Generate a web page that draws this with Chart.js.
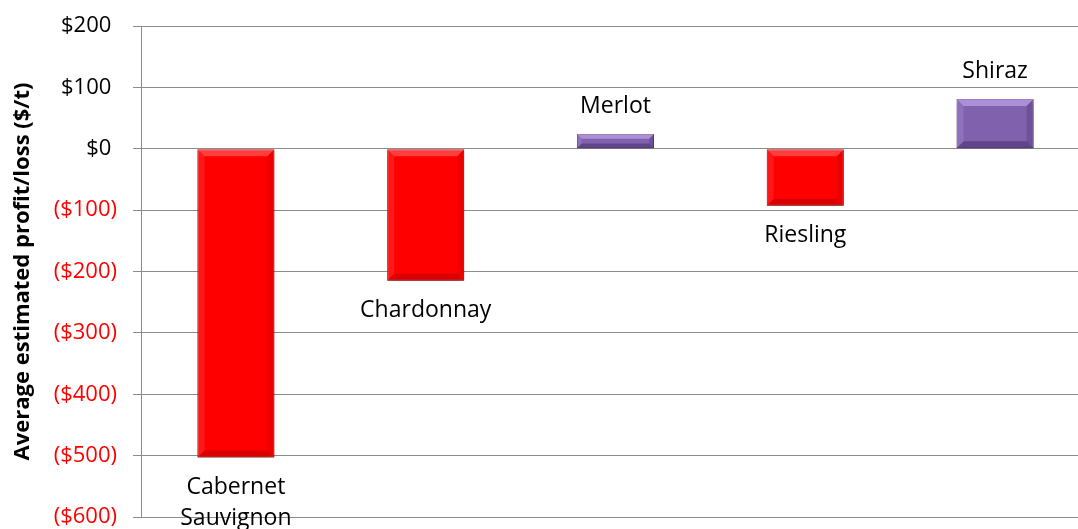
<!DOCTYPE html>
<html>
<head>
<meta charset="utf-8">
<script src="https://cdn.jsdelivr.net/npm/chart.js@4.4.0/dist/chart.umd.min.js"></script>
<style>
  html, body { margin: 0; padding: 0; background: #fff; overflow: hidden; }
  #wrap { width: 1090px; height: 529px; }
</style>
</head>
<body>
<div id="wrap"><canvas id="chart-profit"></canvas></div>
<script>
// categories + values ($/t)
const varieties = [["Cabernet", "Sauvignon"], ["Chardonnay"], ["Merlot"], ["Riesling"], ["Shiraz"]];
const profitLoss = [-503, -215, 24, -93, 81];
const yTicks = [200, 100, 0, -100, -200, -300, -400, -500, -600];

const FONT = "'Open Sans', sans-serif";

function money(v) {
  // excel-ish accounting format, negatives in brackets
  return v < 0 ? "($" + Math.abs(v) + ")" : "$" + v + " ";
}

function barColor(v) {
  return v < 0 ? "#ff0000" : "#8061ad";
}

// shadow + bevel look like the excel bars
const bevelPlugin = {
  id: "bevel",
  beforeDatasetsDraw(chart) {
    const ctx = chart.ctx;
    ctx.save();
    ctx.shadowColor = "rgba(0,0,0,0.35)";
    ctx.shadowBlur = 6;
    ctx.shadowOffsetY = 3;
  },
  afterDatasetsDraw(chart) {
    const ctx = chart.ctx;
    ctx.restore();
    const meta = chart.getDatasetMeta(0);
    meta.data.forEach((bar, i) => {
      const v = profitLoss[i];
      const L = bar.x - bar.width / 2, R = bar.x + bar.width / 2;
      const T = Math.min(bar.y, bar.base), B = Math.max(bar.y, bar.base);
      const b = Math.min(7, (B - T) / 3);
      const light = v < 0 ? "rgba(255,140,140,0.45)" : "rgba(200,175,240,0.6)";
      const dark = v < 0 ? "rgba(150,0,0,0.35)" : "rgba(60,35,100,0.45)";
      const side = v < 0 ? "rgba(255,90,90,0.25)" : "rgba(170,140,215,0.35)";
      const sideDark = v < 0 ? "rgba(170,0,0,0.22)" : "rgba(70,45,110,0.3)";
      const poly = (pts, col) => {
        ctx.beginPath();
        ctx.moveTo(pts[0][0], pts[0][1]);
        pts.slice(1).forEach(p => ctx.lineTo(p[0], p[1]));
        ctx.closePath();
        ctx.fillStyle = col;
        ctx.fill();
      };
      poly([[L, T], [R, T], [R - b, T + b], [L + b, T + b]], light);
      poly([[L, B], [R, B], [R - b, B - b], [L + b, B - b]], dark);
      poly([[L, T], [L + b, T + b], [L + b, B - b], [L, B]], side);
      poly([[R, T], [R - b, T + b], [R - b, B - b], [R, B]], sideDark);
    });

    // category names sit at the end of each bar
    ctx.save();
    ctx.font = "23px " + FONT;
    ctx.fillStyle = "#000";
    ctx.textAlign = "center";
    ctx.textBaseline = "middle";
    meta.data.forEach((bar, i) => {
      const lines = varieties[i];
      const down = profitLoss[i] < 0;
      lines.forEach((txt, k) => {
        const y = down ? bar.y + 30 + k * 31 : bar.y - 28 - (lines.length - 1 - k) * 31;
        ctx.fillText(txt, bar.x, y);
      });
    });
    ctx.restore();
  }
};

new Chart(document.getElementById("chart-profit"), {
  type: "bar",
  data: {
    labels: varieties.map(l => l.join(" ")),
    datasets: [{
      data: profitLoss,
      backgroundColor: profitLoss.map(barColor),
      borderColor: profitLoss.map(v => v < 0 ? "#c00000" : "#5f4388"),
      borderWidth: 1,
      borderSkipped: false,
      barPercentage: 1,
      categoryPercentage: 0.406,
    }],
  },
  options: {
    responsive: true,
    maintainAspectRatio: false,
    animation: false,
    layout: { padding: { top: 26, bottom: 12, left: 0, right: 0 } },
    plugins: {
      legend: { display: false },
      tooltip: { enabled: false },
    },
    scales: {
      x: { display: false },
      y: {
        min: -600,
        max: 200,
        afterBuildTicks(scale) {
          scale.ticks = yTicks.map(v => ({ value: v }));
        },
        afterFit(scale) {
          scale.width = 141;
          scale.paddingTop = 0;
          scale.paddingBottom = 0;
        },
        grid: {
          color: "#8c8c8c",
          lineWidth: 1,
          tickLength: 8,
        },
        border: { display: true, color: "#8c8c8c" },
        ticks: {
          padding: 16,
          font: { family: FONT, size: 22 },
          color: ctx => (ctx.tick && ctx.tick.value < 0 ? "#ff0000" : "#000"),
          callback: v => money(v),
        },
        title: {
          display: true,
          text: "Average estimated profit/loss ($/t)",
          font: { family: FONT, size: 22, weight: "bold" },
          color: "#000",
          padding: { top: 10, bottom: 0 },
        },
      },
    },
  },
  plugins: [bevelPlugin],
});
</script>
</body>
</html>
